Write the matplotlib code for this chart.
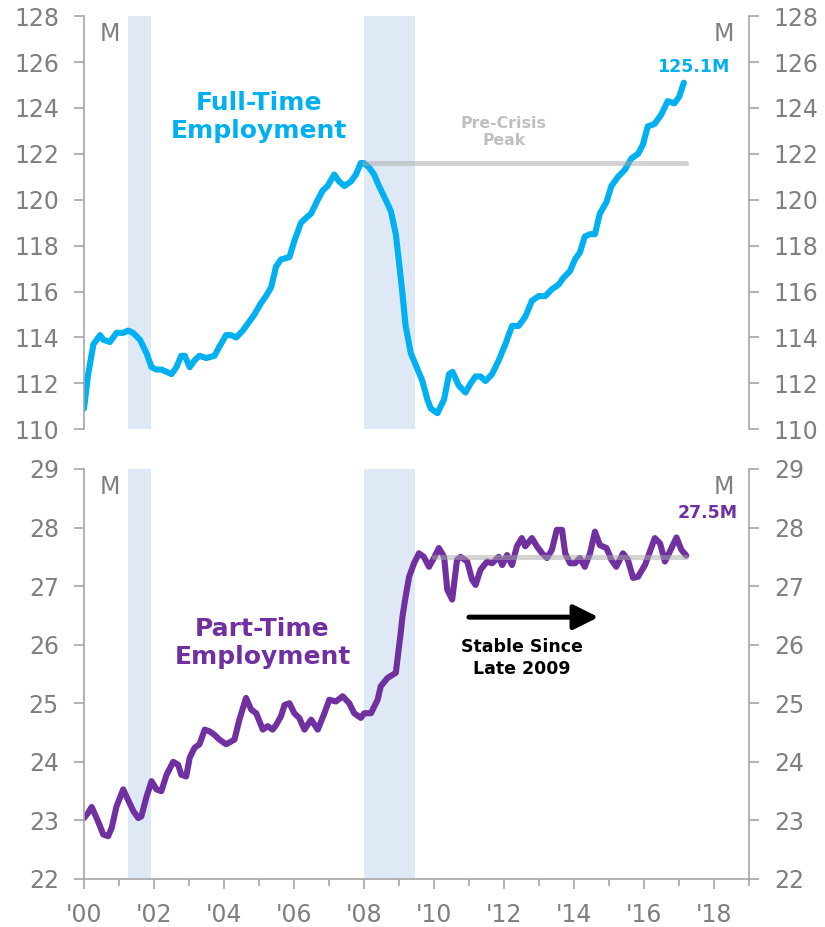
import matplotlib
matplotlib.use("Agg")
import matplotlib.pyplot as plt
from matplotlib.ticker import MultipleLocator, FixedLocator

# -----------------------------------------------------------------------------
# Data (decimal years / millions)
# -----------------------------------------------------------------------------
ft_years = [2000.0, 2000.12, 2000.27, 2000.46, 2000.55, 2000.74, 2000.93, 2001.12,
            2001.26, 2001.4, 2001.6, 2001.79, 2001.93, 2002.07, 2002.21, 2002.36,
            2002.5, 2002.64, 2002.78, 2002.88, 2003.02, 2003.16, 2003.3, 2003.49,
            2003.73, 2003.87, 2004.06, 2004.2, 2004.35, 2004.54, 2004.68, 2004.87,
            2005.06, 2005.2, 2005.35, 2005.49, 2005.63, 2005.87, 2006.01, 2006.2,
            2006.34, 2006.49, 2006.68, 2006.82, 2006.96, 2007.15, 2007.29, 2007.44,
            2007.63, 2007.77, 2007.91, 2008.0, 2008.15, 2008.29, 2008.43, 2008.62,
            2008.77, 2008.91, 2009.0, 2009.1, 2009.19, 2009.34, 2009.48, 2009.67,
            2009.81, 2009.91, 2010.1, 2010.29, 2010.43, 2010.53, 2010.71, 2010.9,
            2011.05, 2011.19, 2011.33, 2011.47, 2011.66, 2011.85, 2012.04, 2012.23,
            2012.42, 2012.61, 2012.8, 2012.99, 2013.18, 2013.37, 2013.56, 2013.7,
            2013.89, 2014.03, 2014.17, 2014.31, 2014.46, 2014.6, 2014.74, 2014.93,
            2015.07, 2015.26, 2015.45, 2015.64, 2015.83, 2015.97, 2016.11, 2016.3,
            2016.49, 2016.68, 2016.87, 2017.01, 2017.14]
ft_values = [110.9, 112.4, 113.7, 114.1, 113.9, 113.8, 114.2, 114.2,
             114.3, 114.2, 113.9, 113.3, 112.7, 112.6, 112.6, 112.5,
             112.4, 112.7, 113.2, 113.2, 112.7, 113.0, 113.2, 113.1,
             113.2, 113.6, 114.1, 114.1, 114.0, 114.3, 114.6, 115.0,
             115.5, 115.8, 116.2, 117.1, 117.4, 117.5, 118.2, 119.0,
             119.2, 119.4, 120.0, 120.4, 120.6, 121.1, 120.8, 120.6,
             120.8, 121.1, 121.6, 121.6, 121.4, 121.1, 120.6, 120.0,
             119.5, 118.5, 117.3, 115.9, 114.5, 113.3, 112.8, 112.1,
             111.3, 110.9, 110.7, 111.3, 112.4, 112.5, 111.9, 111.6,
             112.0, 112.3, 112.3, 112.1, 112.4, 113.0, 113.7, 114.5,
             114.5, 114.9, 115.6, 115.8, 115.8, 116.1, 116.3, 116.6,
             116.9, 117.4, 117.7, 118.4, 118.5, 118.5, 119.4, 119.9,
             120.6, 121.0, 121.3, 121.8, 122.0, 122.4, 123.2, 123.3,
             123.7, 124.3, 124.2, 124.5, 125.1]

pt_years = [2000.0, 2000.12, 2000.22, 2000.36, 2000.46, 2000.55, 2000.69, 2000.79,
            2000.93, 2001.12, 2001.26, 2001.41, 2001.55, 2001.64, 2001.79, 2001.93,
            2002.07, 2002.21, 2002.36, 2002.55, 2002.69, 2002.78, 2002.92, 2003.02,
            2003.16, 2003.3, 2003.45, 2003.59, 2003.73, 2003.87, 2004.06, 2004.3,
            2004.44, 2004.63, 2004.78, 2004.92, 2005.11, 2005.25, 2005.39, 2005.49,
            2005.63, 2005.73, 2005.87, 2006.01, 2006.15, 2006.3, 2006.49, 2006.68,
            2006.87, 2007.01, 2007.2, 2007.39, 2007.58, 2007.72, 2007.91, 2008.01,
            2008.2, 2008.39, 2008.48, 2008.67, 2008.91, 2009.05, 2009.1, 2009.19,
            2009.29, 2009.43, 2009.57, 2009.71, 2009.86, 2010.0, 2010.14, 2010.29,
            2010.38, 2010.52, 2010.66, 2010.76, 2010.95, 2011.09, 2011.19, 2011.33,
            2011.52, 2011.66, 2011.85, 2011.95, 2012.09, 2012.23, 2012.37, 2012.51,
            2012.61, 2012.8, 2012.94, 2013.09, 2013.23, 2013.37, 2013.51, 2013.66,
            2013.75, 2013.89, 2014.03, 2014.17, 2014.31, 2014.46, 2014.6, 2014.74,
            2014.93, 2015.07, 2015.21, 2015.4, 2015.54, 2015.69, 2015.83, 2016.03,
            2016.17, 2016.31, 2016.46, 2016.6, 2016.74, 2016.93, 2017.07, 2017.21]
pt_values = [23.04, 23.13, 23.23, 23.04, 22.90, 22.76, 22.73, 22.87,
             23.24, 23.53, 23.35, 23.16, 23.04, 23.07, 23.41, 23.67,
             23.53, 23.50, 23.78, 24.00, 23.95, 23.78, 23.75, 24.07,
             24.24, 24.30, 24.55, 24.52, 24.46, 24.38, 24.30, 24.38,
             24.72, 25.09, 24.89, 24.83, 24.55, 24.61, 24.55, 24.63,
             24.78, 24.97, 25.00, 24.83, 24.75, 24.55, 24.72, 24.55,
             24.83, 25.06, 25.03, 25.12, 25.00, 24.83, 24.75, 24.83,
             24.83, 25.06, 25.29, 25.43, 25.52, 26.20, 26.48, 26.82,
             27.16, 27.39, 27.56, 27.50, 27.33, 27.48, 27.65, 27.50,
             26.94, 26.77, 27.45, 27.50, 27.42, 27.11, 27.02, 27.28,
             27.42, 27.39, 27.50, 27.36, 27.53, 27.36, 27.68, 27.82,
             27.68, 27.82, 27.68, 27.56, 27.48, 27.62, 27.96, 27.96,
             27.56, 27.39, 27.39, 27.48, 27.33, 27.56, 27.93, 27.70,
             27.65, 27.45, 27.33, 27.56, 27.45, 27.14, 27.16, 27.36,
             27.59, 27.82, 27.73, 27.42, 27.59, 27.83, 27.62, 27.52]

recessions = [(2001.25, 2001.92), (2008.0, 2009.47)]
ft_peak, ft_peak_span = 121.6, (2008.0, 2017.2)
pt_level, pt_level_span = 27.5, (2010.0, 2017.2)
ft_last_label = "125.1M"
pt_last_label = "27.5M"
year_ticks = list(range(2000, 2019, 2))
year_labels = ["'%02d" % (y % 100) for y in year_ticks]

# -----------------------------------------------------------------------------
# Style
# -----------------------------------------------------------------------------
CYAN = "#00B0F0"
PURPLE = "#7030A0"
SHADE = "#DFE9F6"
AXIS_GRAY = "#A6A6A6"
TEXT_GRAY = "#7F7F7F"
TICK_FS = 17

plt.rcParams["font.family"] = ["DejaVu Sans"]

fig = plt.figure(figsize=(8.25, 9.27), dpi=100)
ax1 = fig.add_axes([0.1018, 0.537, 0.806, 0.4455])
ax2 = fig.add_axes([0.1018, 0.0518, 0.806, 0.4423])


def style_axis(ax, ylim, show_x):
    ax.set_xlim(2000, 2019)
    ax.set_ylim(*ylim)
    ax.spines["top"].set_visible(False)
    for side in ("left", "right", "bottom"):
        ax.spines[side].set_color(AXIS_GRAY)
        ax.spines[side].set_linewidth(1.2)
    ax.yaxis.set_major_locator(MultipleLocator(2 if ylim[1] > 100 else 1))
    ax.tick_params(axis="y", which="both", left=True, right=True,
                   labelleft=True, labelright=True, direction="out",
                   length=7, width=1.2, color=AXIS_GRAY,
                   labelcolor=TEXT_GRAY, labelsize=TICK_FS, pad=11)
    if show_x:
        ax.xaxis.set_major_locator(FixedLocator(year_ticks))
        ax.set_xticklabels(year_labels)
        ax.xaxis.set_minor_locator(FixedLocator(range(2001, 2020, 2)))
        ax.tick_params(axis="x", which="major", direction="out", length=7,
                       width=1.2, color=AXIS_GRAY, labelcolor=TEXT_GRAY,
                       labelsize=TICK_FS, pad=10)
        ax.tick_params(axis="x", which="minor", direction="out", length=5,
                       width=1.2, color=AXIS_GRAY)
    else:
        ax.spines["bottom"].set_visible(False)
        ax.set_xticks([])
    for a, b in recessions:
        ax.axvspan(a, b, color=SHADE, lw=0, zorder=0)
    ax.text(0.023, 0.985, "M", transform=ax.transAxes, ha="left", va="top",
            color=TEXT_GRAY, fontsize=TICK_FS)
    ax.text(0.977, 0.985, "M", transform=ax.transAxes, ha="right", va="top",
            color=TEXT_GRAY, fontsize=TICK_FS)


style_axis(ax1, (110, 128), False)
style_axis(ax2, (22, 29), True)

# -------------------------------------------------------------------
# Top panel: full-time employment
# -------------------------------------------------------------------
ax1.plot(ft_years, ft_values, color=CYAN, lw=4.4, solid_joinstyle="round",
         solid_capstyle="round", zorder=2)
ax1.plot(ft_peak_span, [ft_peak, ft_peak], color="#A8A8A8", lw=3.6, alpha=0.5,
         solid_capstyle="round", zorder=3)
ax1.text(2005.0, 123.6, "Full-Time\nEmployment", color=CYAN, fontsize=18,
         fontweight="bold", ha="center", va="center", linespacing=1.2)
ax1.text(2012.0, 122.95, "Pre-Crisis\nPeak", color="#BFBFBF", fontsize=11.3,
         fontweight="bold", ha="center", va="center", linespacing=1.15)
ax1.text(2017.41, 125.8, ft_last_label, color=CYAN, fontsize=12.5,
         fontweight="bold", ha="center", va="center")

# -------------------------------------------------------------------
# Bottom panel: part-time employment
# -------------------------------------------------------------------
ax2.plot(pt_years, pt_values, color=PURPLE, lw=4.4, solid_joinstyle="round",
         solid_capstyle="round", zorder=2)
ax2.plot(pt_level_span, [pt_level, pt_level], color="#A8A8A8", lw=3.6, alpha=0.5,
         solid_capstyle="round", zorder=3)
ax2.text(2005.1, 26.03, "Part-Time\nEmployment", color=PURPLE, fontsize=18,
         fontweight="bold", ha="center", va="center", linespacing=1.2)
ax2.text(2017.82, 28.25, pt_last_label, color=PURPLE, fontsize=12.5,
         fontweight="bold", ha="center", va="center")
ax2.annotate("", xy=(2014.7, 26.47), xytext=(2011.0, 26.47),
             arrowprops=dict(arrowstyle="-|>,head_length=0.6,head_width=0.3",
                             mutation_scale=25, lw=3.6, color="black",
                             shrinkA=0, shrinkB=0))
ax2.text(2012.5, 25.77, "Stable Since\nLate 2009", color="black", fontsize=12.5,
         fontweight="bold", ha="center", va="center", linespacing=1.25)

fig.savefig("out.png", dpi=100)
